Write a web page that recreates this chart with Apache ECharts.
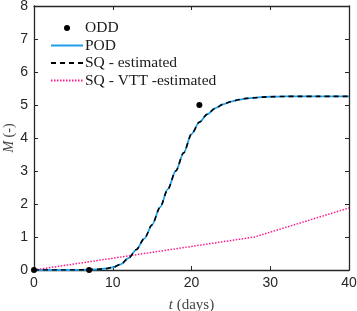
<!DOCTYPE html>
<html><head><meta charset="utf-8">
<script src="https://cdn.jsdelivr.net/npm/echarts@6/dist/echarts.min.js"></script>
<style>html,body{margin:0;padding:0;background:#fff}#c{width:357px;height:311px}</style>
</head><body><div id="c"></div>
<script>
var oddT = [0, 7, 21];
var oddM = [0, 0, 5.0];
var curveT = [0,1,2,3,4,5,6,7,8,9,10,11,12,13,14,15,16,17,18,19,20,21,22,23,24,25,26,27,28,29,30,32,34,36,38,40];
var podM = [0,0,0,0,0,0,0.005,0.01,0.02,0.04,0.08,0.17,0.36,0.62,0.95,1.37,1.9,2.45,3.0,3.55,4.12,4.48,4.72,4.9,5.02,5.1,5.16,5.2,5.22,5.24,5.25,5.26,5.26,5.26,5.26,5.26];
var sqM = podM.slice();
var vttT = [0, 28, 40];
var vttM = [0, 1.0, 1.88];
var xTicks = [0, 10, 20, 30, 40];
var yTicks = [0, 1, 2, 3, 4, 5, 6, 7, 8];

function pairs(a, b) { return a.map(function (v, i) { return [v, b[i]]; }); }

var axisCol = '#262626';
var chart = echarts.init(document.getElementById('c'));
var lineAx = { show: true, onZero: false, lineStyle: { color: axisCol, width: 1.3 } };
chart.setOption({
  animation: false,
  grid: { left: 34, right: 8, top: 6, bottom: 41, containLabel: false, outerBoundsMode: 'none' },
  legend: {
    left: 45, top: 15, orient: 'vertical',
    itemWidth: 32, itemHeight: 6, itemGap: 1.5,
    textStyle: { fontFamily: 'Liberation Serif', fontSize: 15.5, lineHeight: 16, color: '#1a1a1a', padding: [0, 0, 0, -3] },
    data: [
      { name: 'ODD', itemStyle: { color: '#000', opacity: 1 } },
      { name: 'POD', itemStyle: { color: 'transparent', borderWidth: 0 } },
      { name: 'SQ - estimated', itemStyle: { color: 'transparent', borderWidth: 0 } },
      { name: 'SQ - VTT -estimated', itemStyle: { color: 'transparent', borderWidth: 0 } }
    ]
  },
  graphic: [{
    type: 'text', x: 9, y: 138, rotation: Math.PI / 2, silent: true,
    style: {
      text: '{i|M} (-)', align: 'center', verticalAlign: 'middle',
      fontFamily: 'Liberation Serif', fontSize: 14, fill: '#444',
      rich: { i: { fontFamily: 'Liberation Serif', fontStyle: 'italic', fontSize: 14, fill: '#444', color: '#444' } }
    }
  }],
  xAxis: [{
    type: 'value', min: 0, max: 40, interval: 10, position: 'bottom',
    axisLine: lineAx,
    axisTick: { show: true, inside: true, length: 4, lineStyle: { color: axisCol, width: 1 } },
    axisLabel: { fontFamily: 'Liberation Sans', fontSize: 14, color: '#262626', margin: 6,
      formatter: function (v) { return xTicks.indexOf(v) >= 0 ? String(v) : ''; } },
    splitLine: { show: false },
    name: '{i|t} (days)', nameLocation: 'middle', nameGap: 28, nameMoveOverlap: false,
    nameTextStyle: { fontFamily: 'Liberation Serif', fontSize: 15, color: '#444',
      rich: { i: { fontFamily: 'Liberation Serif', fontStyle: 'italic', fontSize: 15, color: '#444' } } }
  }, {
    type: 'value', min: 0, max: 40, interval: 10, position: 'top',
    axisLine: lineAx,
    axisTick: { show: true, inside: true, length: 4, lineStyle: { color: axisCol, width: 1 } },
    axisLabel: { show: false }, splitLine: { show: false }
  }],
  yAxis: [{
    type: 'value', min: 0, max: 8, interval: 1, position: 'left',
    axisLine: lineAx,
    axisTick: { show: true, inside: true, length: 4, lineStyle: { color: axisCol, width: 1 } },
    axisLabel: { fontFamily: 'Liberation Sans', fontSize: 14, color: '#262626', margin: 6,
      formatter: function (v) { return yTicks.indexOf(v) >= 0 ? String(v) : ''; } },
    splitLine: { show: false }
  }, {
    type: 'value', min: 0, max: 8, interval: 1, position: 'right',
    axisLine: lineAx,
    axisTick: { show: true, inside: true, length: 4, lineStyle: { color: axisCol, width: 1 } },
    axisLabel: { show: false }, splitLine: { show: false }
  }],
  series: [
    { name: 'POD', type: 'line', data: pairs(curveT, podM), showSymbol: false, symbol: 'none',
      smooth: 0.3, smoothMonotone: 'x', color: '#1E9FEA', lineStyle: { color: '#1E9FEA', width: 1.8 }, z: 2 },
    { name: 'SQ - estimated', type: 'line', data: pairs(curveT, sqM), showSymbol: false, symbol: 'none',
      smooth: 0.3, smoothMonotone: 'x', color: '#000', lineStyle: { color: '#000', width: 1.6, type: [5, 4] }, z: 3 },
    { name: 'SQ - VTT -estimated', type: 'line', data: pairs(vttT, vttM), showSymbol: false, symbol: 'none',
      color: '#FF1A8C', lineStyle: { color: '#FF1A8C', width: 1.5, type: [1.5, 1.5] }, z: 2 },
    { name: 'ODD', type: 'scatter', data: pairs(oddT, oddM), symbol: 'circle', symbolSize: 6,
      color: '#000', itemStyle: { color: '#000', opacity: 1 }, z: 5 }
  ]
});
</script></body></html>
